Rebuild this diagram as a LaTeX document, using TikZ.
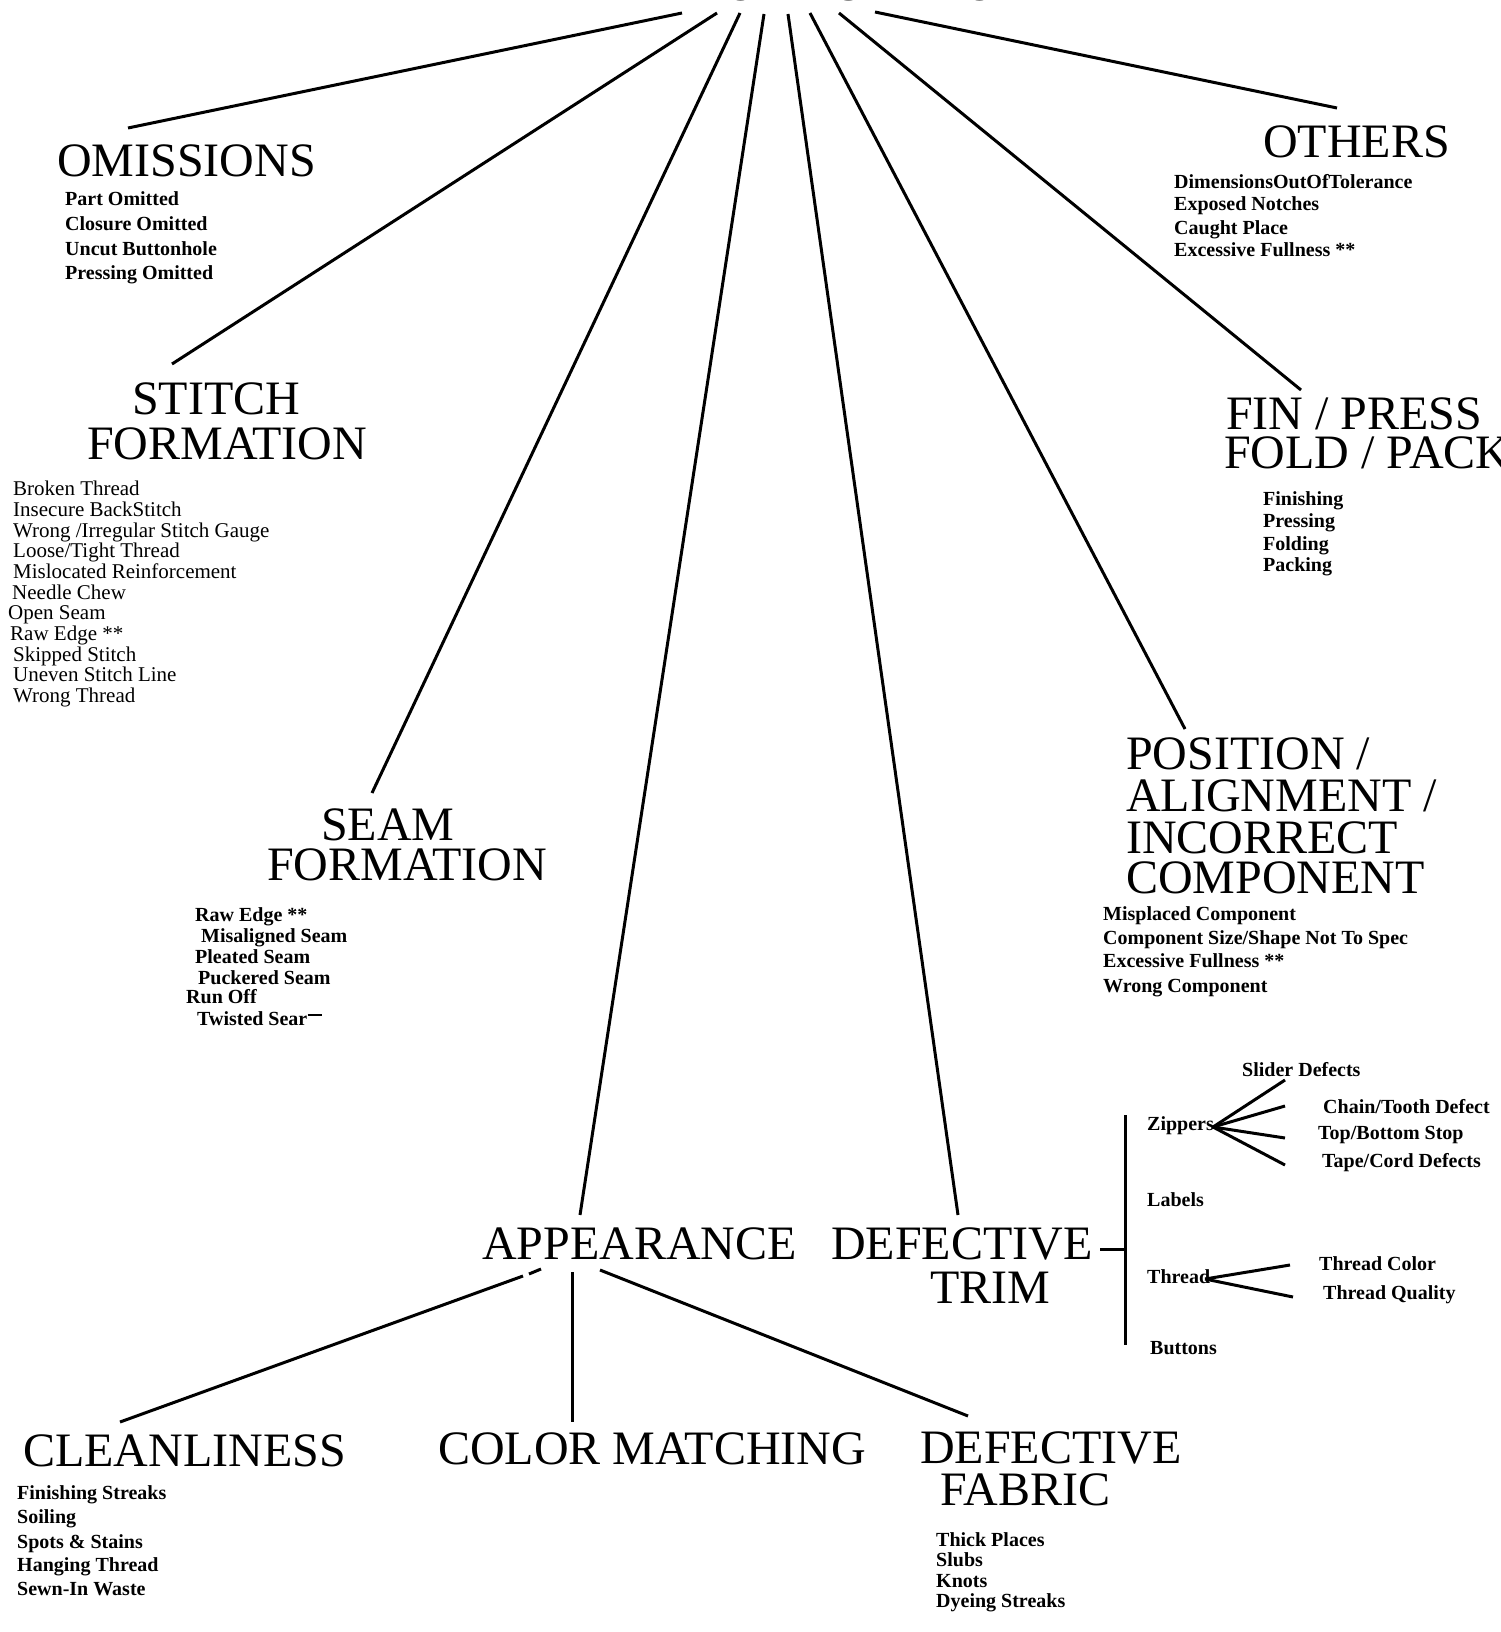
\documentclass[tikz,border=0pt]{standalone}
\usepackage{fontspec}
\setmainfont{Liberation Serif}
\begin{document}
\begin{tikzpicture}[x=1pt,y=-1pt,
  head/.style={font=\fontsize{48}{45}\selectfont,anchor=base west,inner sep=0pt},
  itemb/.style={font=\bfseries\fontsize{20}{22}\selectfont,anchor=base west,inner sep=0pt},
  itemr/.style={font=\fontsize{21}{21}\selectfont,anchor=base west,inner sep=0pt},
  conn/.style={line width=3pt}]
\useasboundingbox (0,0) rectangle (1500,1632);
\clip (0,0) rectangle (1500,1632);

% title (cut off at the top edge)
\node[head] (title) at (630,0.5) {NATURE OF FAULT};

% headings
\node[head] (omis) at (57,177) {OMISSIONS};
\node[head] (others) at (1263,158) {OTHERS};
\node[head] (stitchA) at (132,414) {STITCH};
\node[head] (stitchB) at (87,459) {FORMATION};
\node[head] (finA) at (1226,429) {FIN / PRESS};
\node[head] (finB) at (1224,468) {FOLD / PACK};
\node[head] (posA) at (1126,769) {POSITION /};
\node[head] (posB) at (1126,811) {ALIGNMENT /};
\node[head] (posC) at (1126,853) {INCORRECT};
\node[head] (posD) at (1126,893) {COMPONENT};
\node[head] (seamA) at (321,840) {SEAM};
\node[head] (seamB) at (267,880) {FORMATION};
\node[head] (appear) at (482,1259) {APPEARANCE};
\node[head] (trimA) at (831,1259) {DEFECTIVE};
\node[head] (trimB) at (930,1303) {TRIM};
\node[head] (clean) at (23,1466) {CLEANLINESS};
\node[head] (color) at (438,1464) {COLOR MATCHING};
\node[head] (fabA) at (920,1463) {DEFECTIVE};
\node[head] (fabB) at (940,1505) {FABRIC};

% omissions list
\node[itemb] (om1) at (65,206) {Part Omitted};
\node[itemb] (om2) at (65,230) {Closure Omitted};
\node[itemb] (om3) at (65,255) {Uncut Buttonhole};
\node[itemb] (om4) at (65,279) {Pressing Omitted};

% others list
\node[itemb] (ot1) at (1174,189) {DimensionsOutOfTolerance};
\node[itemb] (ot2) at (1174,211) {Exposed Notches};
\node[itemb] (ot3) at (1174,234) {Caught Place};
\node[itemb] (ot4) at (1174,256) {Excessive Fullness **};

% stitch formation list
\node[itemr] (st1) at (13,495) {Broken Thread};
\node[itemr] (st2) at (13,516) {Insecure BackStitch};
\node[itemr] (st3) at (13,537) {Wrong /Irregular Stitch Gauge};
\node[itemr] (st4) at (13,557) {Loose/Tight Thread};
\node[itemr] (st5) at (13,578) {Mislocated Reinforcement};
\node[itemr] (st6) at (12,599) {Needle Chew};
\node[itemr] (st7) at (8,619) {Open Seam};
\node[itemr] (st8) at (10,640) {Raw Edge **};
\node[itemr] (st9) at (13,661) {Skipped Stitch};
\node[itemr] (st10) at (13,681) {Uneven Stitch Line};
\node[itemr] (st11) at (13,702) {Wrong Thread};

% fin / press list
\node[itemb] (fp1) at (1263,505) {Finishing};
\node[itemb] (fp2) at (1263,527) {Pressing};
\node[itemb] (fp3) at (1263,550) {Folding};
\node[itemb] (fp4) at (1263,571) {Packing};

% position list
\node[itemb] (po1) at (1103,920) {Misplaced Component};
\node[itemb] (po2) at (1103,944) {Component Size/Shape Not To Spec};
\node[itemb] (po3) at (1103,967) {Excessive Fullness **};
\node[itemb] (po4) at (1103,992) {Wrong Component};

% seam list
\node[itemb] (se1) at (195,921) {Raw Edge **};
\node[itemb] (se2) at (201,942) {Misaligned Seam};
\node[itemb] (se3) at (195,963) {Pleated Seam};
\node[itemb] (se4) at (198,984) {Puckered Seam};
\node[itemb] (se5) at (186,1003) {Run Off};
\node[itemb] (se6) at (197,1025) {Twisted Sear};
\draw[line width=1.6pt] ([yshift=10pt]se6.base east) -- ++(14,0);

% cleanliness list
\node[itemb] (cl1) at (17,1499) {Finishing Streaks};
\node[itemb] (cl2) at (17,1523) {Soiling};
\node[itemb] (cl3) at (17,1548) {Spots \& Stains};
\node[itemb] (cl4) at (17,1571) {Hanging Thread};
\node[itemb] (cl5) at (17,1595) {Sewn-In Waste};

% fabric list
\node[itemb] (fa1) at (936,1546) {Thick Places};
\node[itemb] (fa2) at (936,1566) {Slubs};
\node[itemb] (fa3) at (936,1587) {Knots};
\node[itemb] (fa4) at (936,1607) {Dyeing Streaks};

% trim items
\node[itemb] (zip) at (1147,1130) {Zippers};
\node[itemb] (slider) at (1242,1076) {Slider Defects};
\node[itemb] (chain) at (1323,1113) {Chain/Tooth Defect};
\node[itemb] (stop) at (1318,1139) {Top/Bottom Stop};
\node[itemb] (tape) at (1322,1167) {Tape/Cord Defects};
\node[itemb] (labels) at (1147,1206) {Labels};
\node[itemb] (thread) at (1147,1283) {Thread};
\node[itemb] (tcol) at (1319,1270) {Thread Color};
\node[itemb] (tqual) at (1323,1299) {Thread Quality};
\node[itemb] (buttons) at (1150,1354) {Buttons};

% connector end points
\coordinate (t1) at (682,13);  \coordinate (e1) at (128,128);
\coordinate (t2) at (717,13);  \coordinate (e2) at (172,364);
\coordinate (t3) at (740,13);  \coordinate (e3) at (372,793);
\coordinate (t4) at (764,14);  \coordinate (e4) at (580,1215);
\coordinate (t5) at (788,14);  \coordinate (e5) at (958,1215);
\coordinate (t6) at (810,13);  \coordinate (e6) at (1185,729);
\coordinate (t7) at (839,13);  \coordinate (e7) at (1301,390);
\coordinate (t8) at (875,12);  \coordinate (e8) at (1337,108);

\draw[conn] (t1) -- (e1);
\draw[conn] (t2) -- (e2);
\draw[conn] (t3) -- (e3);
\draw[conn] (t4) -- (e4);
\draw[conn] (t5) -- (e5);
\draw[conn] (t6) -- (e6);
\draw[conn] (t7) -- (e7);
\draw[conn] (t8) -- (e8);

% appearance branches
\coordinate (aL0) at (120,1422); \coordinate (aL1) at (523,1276);
\coordinate (aL2) at (529,1274); \coordinate (aL3) at (541,1269);
\coordinate (aM0) at (572,1272); \coordinate (aM1) at (572,1422);
\coordinate (aR0) at (600,1270); \coordinate (aR1) at (968,1416);
\draw[conn] (aL0) -- (aL1);
\draw[conn] (aL2) -- (aL3);
\draw[conn] (aM0) -- (aM1);
\draw[conn] (aR0) -- (aR1);

% defective trim bracket
\coordinate (b0) at (1100,1249); \coordinate (b1) at (1125,1249);
\coordinate (bt) at (1125,1115); \coordinate (bb) at (1125,1345);
\draw[conn] (b0) -- (b1);
\draw[conn] (bt) -- (bb);

% zipper branches
\coordinate (zh) at (1213,1127);
\coordinate (z1) at (1285,1080); \coordinate (z2) at (1285,1106);
\coordinate (z3) at (1285,1138); \coordinate (z4) at (1285,1165);
\foreach \z in {z1,z2,z3,z4} \draw[conn] (zh) -- (\z);

% thread branches
\coordinate (th) at (1205,1279);
\coordinate (th1) at (1290,1265); \coordinate (th2) at (1293,1297);
\draw[conn] (th) -- (th1);
\draw[conn] (th) -- (th2);
\end{tikzpicture}
\end{document}
